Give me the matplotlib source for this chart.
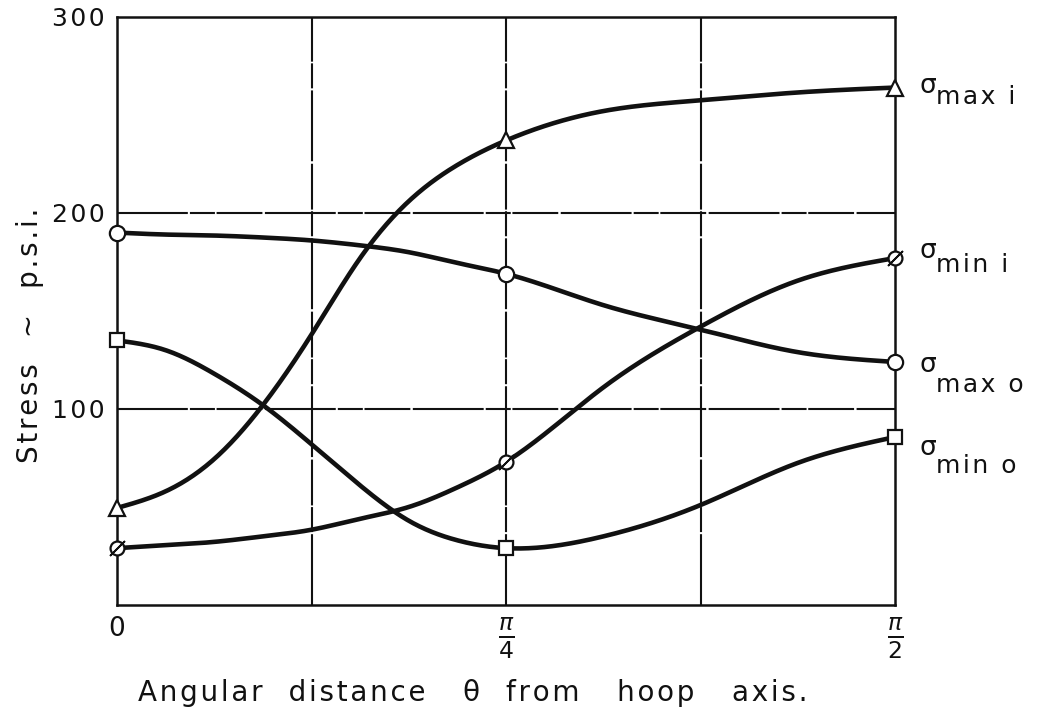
import numpy as np
import matplotlib
matplotlib.use("Agg")
import matplotlib.pyplot as plt

# Angular positions, as fractions of pi/2
theta_frac = [0, 1/16, 1/8, 3/16, 1/4, 5/16, 3/8, 7/16, 1/2, 5/8, 3/4, 7/8, 1]

# Stress (p.s.i.) along each curve
sigma_max_i = [49.5, 58, 74.5, 102, 138, 177, 206, 224.5, 237, 252, 257.5, 261.5, 264]
sigma_min_i = [29, 30.5, 32.2, 35, 38.4, 44, 50, 60, 73, 111, 142, 165.5, 177]
sigma_max_o = [190, 189, 188.5, 187.5, 186, 183.5, 180, 174.5, 169, 153, 140.5, 129, 124]
sigma_min_o = [135, 130, 118, 102, 82, 61, 43, 33, 29, 35, 51, 72.5, 85.7]

series_names = ["max i", "min i", "max o", "min o"]
x_tick_labels = ["0", r"$\frac{\pi}{4}$", r"$\frac{\pi}{2}$"]
y_tick_labels = ["100", "200", "300"]
x_label = "Angular  distance   \u03b8  from   hoop   axis."
y_label = "Stress  ~  p.s.i."

INK = "#111111"
plt.rcParams["font.family"] = ["DejaVu Sans"]
plt.rcParams["mathtext.fontset"] = "dejavusans"


def tracked(s, gap="\u200a"):
    """Widen lettering by putting a hair space between the characters."""
    return gap.join(s)


def smooth(x, y, n=500):
    """Natural cubic spline through the given points, for drawing a smooth pen line."""
    x = np.asarray(x, float)
    y = np.asarray(y, float)
    k = len(x)
    h = np.diff(x)
    A = np.zeros((k, k))
    r = np.zeros(k)
    A[0, 0] = A[-1, -1] = 1.0
    for i in range(1, k - 1):
        A[i, i - 1] = h[i - 1]
        A[i, i] = 2 * (h[i - 1] + h[i])
        A[i, i + 1] = h[i]
        r[i] = 3 * ((y[i + 1] - y[i]) / h[i] - (y[i] - y[i - 1]) / h[i - 1])
    c = np.linalg.solve(A, r)
    b = (y[1:] - y[:-1]) / h - h * (2 * c[:-1] + c[1:]) / 3
    d = (c[1:] - c[:-1]) / (3 * h)
    xs = np.linspace(x[0], x[-1], n)
    idx = np.clip(np.searchsorted(x, xs) - 1, 0, k - 2)
    t = xs - x[idx]
    ys = y[idx] + b[idx] * t + c[idx] * t ** 2 + d[idx] * t ** 3
    return xs, ys


theta = np.array(theta_frac) * np.pi / 2
mark_idx = [0, 8, 12]  # theta = 0, pi/4, pi/2

fig = plt.figure(figsize=(10.54, 7.19), dpi=100)
fig.patch.set_facecolor("white")
ax = fig.add_axes([117 / 1054, 1 - 605 / 719, 778 / 1054, 588 / 719])
ax.set_xlim(0, np.pi / 2)
ax.set_ylim(0, 300)

# Grid of the graph paper
grid_style = dict(color=INK, lw=1.5, ls=(0, (34, 1.0, 12, 0.8, 22, 1.2)), zorder=1)
for gx in [np.pi / 8, np.pi / 4, 3 * np.pi / 8]:
    ax.axvline(gx, **grid_style)
for gy in [100, 200]:
    ax.axhline(gy, **grid_style)

for sp in ax.spines.values():
    sp.set_linewidth(1.8)
    sp.set_color(INK)

curve_style = dict(color=INK, lw=3.3, solid_capstyle="round", zorder=3)
marker_style = dict(ls="none", mfc="white", mec=INK, mew=1.6, zorder=4, clip_on=False)

series = [sigma_max_i, sigma_min_i, sigma_max_o, sigma_min_o]
for vals in series:
    xs, ys = smooth(theta, vals)
    ax.plot(xs, ys, **curve_style)

tm = theta[mark_idx]
ax.plot(tm, np.array(sigma_max_i)[mark_idx], marker="^", ms=11, **marker_style)
ax.plot(tm, np.array(sigma_min_i)[mark_idx], marker="o", ms=10, **marker_style)
ax.plot(tm, np.array(sigma_min_i)[mark_idx], marker=(2, 2, -45), ms=15,
        ls="none", mec=INK, mew=1.3, zorder=5, clip_on=False)
ax.plot(tm, np.array(sigma_max_o)[mark_idx], marker="o", ms=11, **marker_style)
ax.plot(tm, np.array(sigma_min_o)[mark_idx], marker="s", ms=9.5, **marker_style)

# Axis ticks and labels
ax.set_xticks([0, np.pi / 4, np.pi / 2])
ax.set_xticklabels(x_tick_labels)
ax.set_yticks([100, 200, 300])
ax.set_yticklabels([tracked(t) for t in y_tick_labels])
ax.tick_params(length=0, colors=INK)
ax.tick_params(axis="y", pad=9, labelsize=18)
ax.tick_params(axis="x", pad=8, labelsize=19)
for lab in ax.get_xticklabels()[1:]:
    lab.set_fontsize(24)

fig.text(30 / 1054, 1 - 335 / 719, tracked(y_label), rotation=90, ha="center", va="center",
         fontsize=20, color=INK)
fig.text(473 / 1054, 1 - 693 / 719, tracked(x_label), ha="center", va="center",
         fontsize=20, color=INK)

# Curve names at the right-hand edge
label_y = {"max i": (265, 259), "min i": (180.5, 173.5), "max o": (122.5, 112), "min o": (80, 71)}
trans = ax.get_yaxis_transform()
for name in series_names:
    ys_sig, ys_sub = label_y[name]
    ax.text(1.0 + 24 / 778, ys_sig, "\u03c3", transform=trans, ha="left", va="center",
            fontsize=19, color=INK, clip_on=False)
    ax.text(1.0 + 41 / 778, ys_sub, tracked(name), transform=trans, ha="left", va="center",
            fontsize=18, color=INK, clip_on=False)

fig.savefig("out.png", dpi=100, facecolor="white")
